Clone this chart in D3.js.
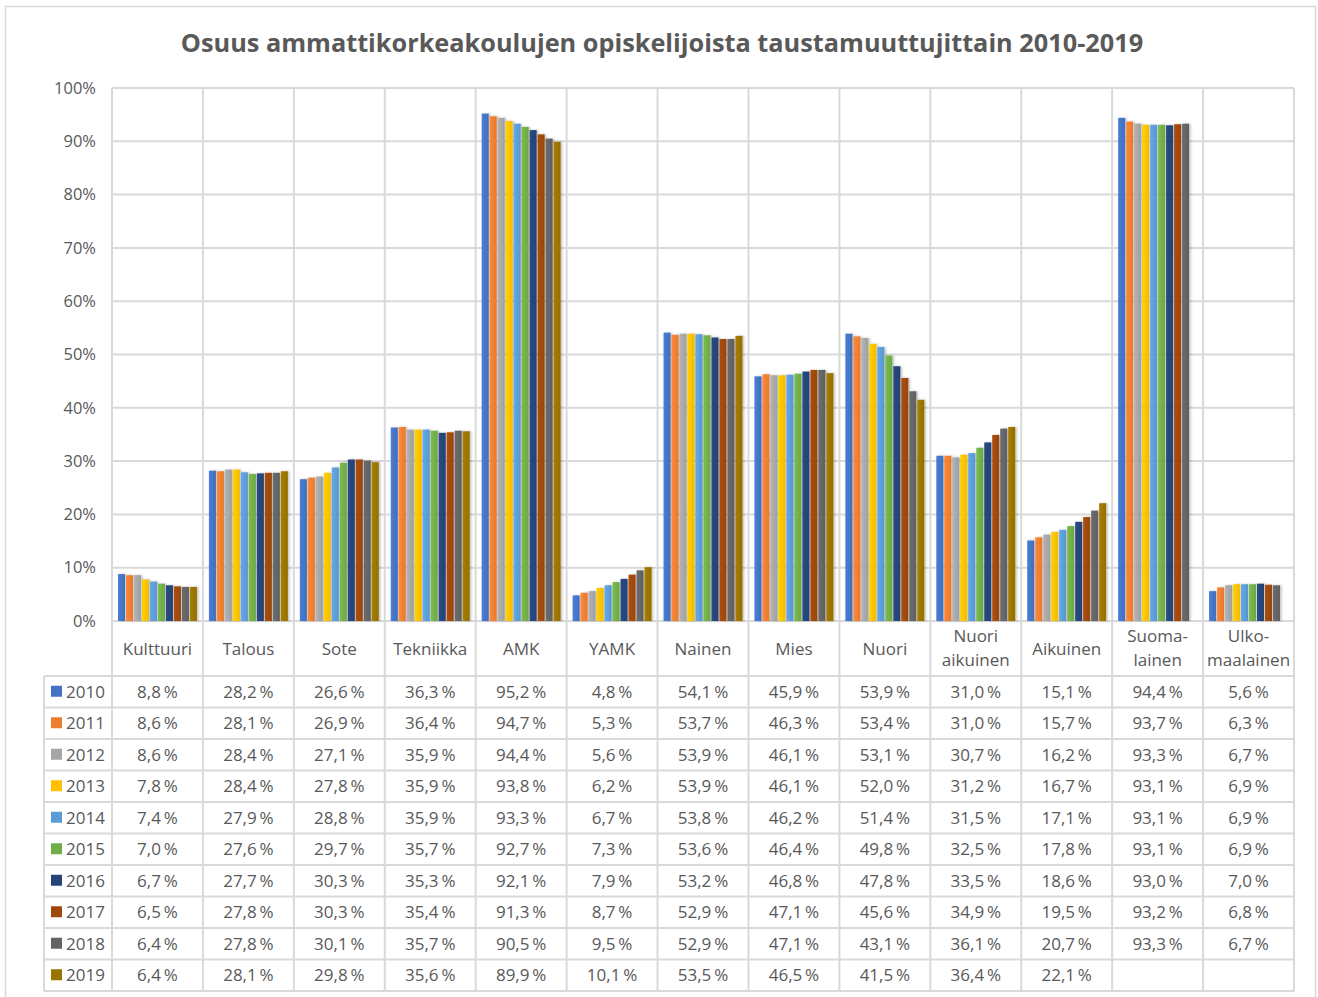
<!DOCTYPE html>
<html>
<head>
<meta charset="utf-8">
<script src="https://cdn.jsdelivr.net/npm/d3@7"></script>
<style>
  body { margin: 0; background: #fff; }
  text { font-family: "Open Sans", "Noto Sans", sans-serif; fill: #595959; }
</style>
</head>
<body>
<div id="chart"></div>
<script>
var categories = ["Kulttuuri", "Talous", "Sote", "Tekniikka", "AMK", "YAMK", "Nainen", "Mies",
                  "Nuori", "Nuori aikuinen", "Aikuinen", "Suomalainen", "Ulkomaalainen"];
// labels as they wrap under the axis
var categoryLabels = [["Kulttuuri"], ["Talous"], ["Sote"], ["Tekniikka"], ["AMK"], ["YAMK"], ["Nainen"], ["Mies"],
                      ["Nuori"], ["Nuori", "aikuinen"], ["Aikuinen"], ["Suoma-", "lainen"], ["Ulko-", "maalainen"]];
var years = ["2010", "2011", "2012", "2013", "2014", "2015", "2016", "2017", "2018", "2019"];

var v2010 = [8.8, 28.2, 26.6, 36.3, 95.2, 4.8, 54.1, 45.9, 53.9, 31.0, 15.1, 94.4, 5.6];
var v2011 = [8.6, 28.1, 26.9, 36.4, 94.7, 5.3, 53.7, 46.3, 53.4, 31.0, 15.7, 93.7, 6.3];
var v2012 = [8.6, 28.4, 27.1, 35.9, 94.4, 5.6, 53.9, 46.1, 53.1, 30.7, 16.2, 93.3, 6.7];
var v2013 = [7.8, 28.4, 27.8, 35.9, 93.8, 6.2, 53.9, 46.1, 52.0, 31.2, 16.7, 93.1, 6.9];
var v2014 = [7.4, 27.9, 28.8, 35.9, 93.3, 6.7, 53.8, 46.2, 51.4, 31.5, 17.1, 93.1, 6.9];
var v2015 = [7.0, 27.6, 29.7, 35.7, 92.7, 7.3, 53.6, 46.4, 49.8, 32.5, 17.8, 93.1, 6.9];
var v2016 = [6.7, 27.7, 30.3, 35.3, 92.1, 7.9, 53.2, 46.8, 47.8, 33.5, 18.6, 93.0, 7.0];
var v2017 = [6.5, 27.8, 30.3, 35.4, 91.3, 8.7, 52.9, 47.1, 45.6, 34.9, 19.5, 93.2, 6.8];
var v2018 = [6.4, 27.8, 30.1, 35.7, 90.5, 9.5, 52.9, 47.1, 43.1, 36.1, 20.7, 93.3, 6.7];
var v2019 = [6.4, 28.1, 29.8, 35.6, 89.9, 10.1, 53.5, 46.5, 41.5, 36.4, 22.1, null, null];

var colors = ["#4472C4", "#ED7D31", "#A5A5A5", "#FFC000", "#5B9BD5", "#70AD47",
              "#264478", "#9E480E", "#636363", "#997300"];

var yTicks = [0, 0.1, 0.2, 0.3, 0.4, 0.5, 0.6, 0.7, 0.8, 0.9, 1];

var series = [v2010, v2011, v2012, v2013, v2014, v2015, v2016, v2017, v2018, v2019].map(function(vals, i) {
  return { year: years[i], color: colors[i], values: vals };
});

var W = 1318, H = 997;
var plotLeft = 112, plotRight = 1294, plotTop = 88, plotBottom = 621;
var tableLeft = 44, tableRowsTop = 676, tableBottom = 991;
var gridColor = "#d9d9d9";

var fi = d3.formatLocale({ decimal: ",", thousands: "\u00a0", grouping: [3], currency: ["", "€"] });
var fmtVal = function(v) { return fi.format(".1f")(v) + "\u2009%"; };

var svg = d3.select("#chart").append("svg")
  .attr("width", W)
  .attr("height", H);

// outer chart frame
svg.append("rect")
  .attr("x", 5.5).attr("y", 6.5)
  .attr("width", 1310).attr("height", 1000)
  .attr("fill", "#fff")
  .attr("stroke", gridColor)
  .attr("stroke-width", 1.5);

var defs = svg.append("defs");
var shadow = defs.append("filter").attr("id", "shadow")
  .attr("x", "-30%").attr("y", "-5%").attr("width", "180%").attr("height", "110%");
shadow.append("feDropShadow")
  .attr("dx", 1.5).attr("dy", 0)
  .attr("stdDeviation", 1.2)
  .attr("flood-color", "#000")
  .attr("flood-opacity", 0.25);

series.forEach(function(s, i) {
  var g = defs.append("linearGradient").attr("id", "grad" + i)
    .attr("x1", "0").attr("x2", "1").attr("y1", "0").attr("y2", "0");
  g.append("stop").attr("offset", "0%").attr("stop-color", d3.color(s.color).brighter(0.25));
  g.append("stop").attr("offset", "100%").attr("stop-color", d3.color(s.color).darker(0.1));
});

var x = d3.scaleBand()
  .domain(categories)
  .range([plotLeft, plotRight]);

var xInner = d3.scaleBand()
  .domain(years)
  .range([0, x.bandwidth()])
  .paddingInner(0.12)
  .paddingOuter(0.75);

var y = d3.scaleLinear()
  .domain([0, 1])
  .range([plotBottom, plotTop]);

var rowY = d3.scaleBand()
  .domain(years)
  .range([tableRowsTop, tableBottom]);

// title
svg.append("text")
  .attr("x", 662)
  .attr("y", 52)
  .attr("text-anchor", "middle")
  .style("font-size", "25.3px")
  .style("font-weight", "bold")
  .text("Osuus ammattikorkeakoulujen opiskelijoista taustamuuttujittain 2010-2019");

// horizontal gridlines
svg.append("g")
  .selectAll("line")
  .data(yTicks)
  .enter().append("line")
    .attr("x1", plotLeft).attr("x2", plotRight)
    .attr("y1", function(d) { return y(d); })
    .attr("y2", function(d) { return y(d); })
    .attr("stroke", gridColor)
    .attr("stroke-width", 2);

// y axis labels
var yAxis = svg.append("g")
  .attr("transform", "translate(" + (plotLeft - 16) + ",0)")
  .call(d3.axisLeft(y).tickValues(yTicks).tickFormat(d3.format(".0%")).tickSize(0).tickPadding(0));
yAxis.select(".domain").remove();
yAxis.selectAll("text")
  .style("font-size", "16.5px")
  .style("font-family", "\"Open Sans\", sans-serif")
  .attr("fill", "#595959");

// vertical category lines through plot and table
var vlines = categories.map(function(c) { return x(c); }).concat([plotRight]);
svg.append("g")
  .selectAll("line")
  .data(vlines)
  .enter().append("line")
    .attr("x1", function(d) { return d; })
    .attr("x2", function(d) { return d; })
    .attr("y1", plotTop)
    .attr("y2", tableBottom)
    .attr("stroke", gridColor)
    .attr("stroke-width", 2);

// table row lines
var rowLines = years.map(function(yr) { return rowY(yr); }).concat([tableBottom]);
svg.append("g")
  .selectAll("line")
  .data(rowLines)
  .enter().append("line")
    .attr("x1", tableLeft).attr("x2", plotRight)
    .attr("y1", function(d) { return d; })
    .attr("y2", function(d) { return d; })
    .attr("stroke", gridColor)
    .attr("stroke-width", 2);

svg.append("line")
  .attr("x1", tableLeft).attr("x2", tableLeft)
  .attr("y1", tableRowsTop).attr("y2", tableBottom)
  .attr("stroke", gridColor)
  .attr("stroke-width", 2);

// bars
var groups = svg.append("g")
  .selectAll("g")
  .data(series)
  .enter().append("g")
    .attr("fill", function(d, i) { return "url(#grad" + i + ")"; })
    .attr("filter", "url(#shadow)");

groups.selectAll("rect")
  .data(function(s) {
    return s.values.map(function(v, j) { return { cat: categories[j], year: s.year, value: v }; })
      .filter(function(d) { return d.value != null; });
  })
  .enter().append("rect")
    .attr("x", function(d) { return x(d.cat) + xInner(d.year); })
    .attr("width", xInner.bandwidth())
    .attr("y", function(d) { return y(d.value / 100); })
    .attr("height", function(d) { return y(0) - y(d.value / 100); });

// category labels
var catLabels = svg.append("g")
  .selectAll("text")
  .data(categories)
  .enter().append("text")
    .attr("x", function(d) { return x(d) + x.bandwidth() / 2; })
    .attr("y", function(d, i) { return categoryLabels[i].length > 1 ? 642 : 655; })
    .attr("text-anchor", "middle")
    .style("font-size", "17px");
catLabels.each(function(d, i) {
  var t = d3.select(this);
  categoryLabels[i].forEach(function(line, k) {
    t.append("tspan")
      .attr("x", x(d) + x.bandwidth() / 2)
      .attr("dy", k === 0 ? 0 : 24)
      .text(line);
  });
});

// table rows: legend key + year
var rows = svg.append("g")
  .selectAll("g")
  .data(series)
  .enter().append("g")
    .attr("transform", function(d) { return "translate(0," + (rowY(d.year) + rowY.bandwidth() / 2) + ")"; });

rows.append("rect")
  .attr("x", 51).attr("y", -6)
  .attr("width", 11).attr("height", 11)
  .attr("fill", function(d) { return d.color; });

rows.append("text")
  .attr("x", 66)
  .attr("y", 6)
  .style("font-size", "17px")
  .text(function(d) { return d.year; });

rows.selectAll("text.val")
  .data(function(s) { return s.values.map(function(v, j) { return { cat: categories[j], value: v }; }); })
  .enter().append("text")
    .attr("class", "val")
    .attr("x", function(d) { return x(d.cat) + x.bandwidth() / 2; })
    .attr("y", 6)
    .attr("text-anchor", "middle")
    .style("font-size", "17px")
    .text(function(d) { return d.value == null ? "" : fmtVal(d.value); });
</script>
</body>
</html>
